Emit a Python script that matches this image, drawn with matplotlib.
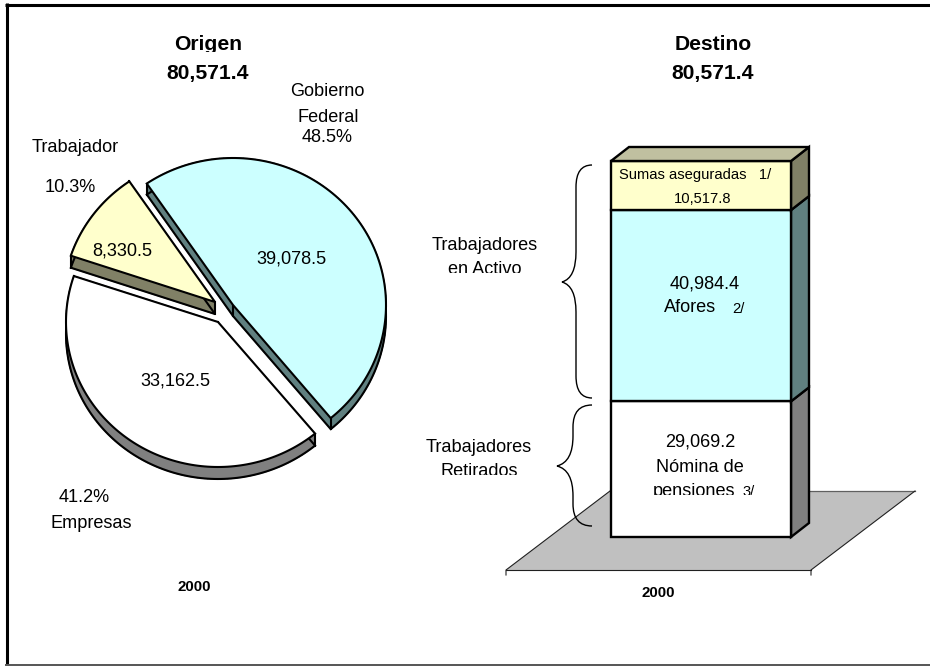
import numpy as np
import matplotlib
matplotlib.use('Agg')
import matplotlib.pyplot as plt
from matplotlib.patches import Polygon, Rectangle, PathPatch
from matplotlib.path import Path

plt.rcParams['font.family'] = ['Liberation Sans', 'DejaVu Sans']

# Origen (pie)
pie_names = ['Gobierno Federal', 'Empresas', 'Trabajador']
pie_values = [39078.5, 33162.5, 8330.5]
pie_colors = ['#CCFFFF', '#FFFFFF', '#FFFFCC']
pie_sides = ['#608080', '#808080', '#808066']

# Destino (stacked column), bottom to top
bar_names = ['Nomina de pensiones', 'Afores', 'Sumas aseguradas']
bar_values = [29069.2, 40984.4, 10517.8]
bar_colors = ['#FFFFFF', '#CCFFFF', '#FFFFCC']
bar_sides = ['#808080', '#608080', '#808066']
bar_total = sum(bar_values)

fig = plt.figure(figsize=(9.3, 6.66), dpi=100)
ax = fig.add_axes([0, 0, 1, 1])
ax.set_xlim(0, 930)
ax.set_ylim(666, 0)
ax.axis('off')

LW = 1.5

# outer frame: heavy top and left, thin grey bottom, nothing on the right
ax.plot([6.5, 6.5], [3, 664], color='black', lw=2.2, solid_capstyle='butt', zorder=0)
ax.plot([5, 930], [4.5, 4.5], color='black', lw=2.2, solid_capstyle='butt', zorder=0)
ax.plot([5, 930], [664.5, 664.5], color='#555555', lw=1.4, solid_capstyle='butt', zorder=0)


def wedge_outline(cx, cy, a1, a2, rx, ry):
    t = np.radians(np.linspace(a1, a2, 120))
    xs = cx + rx * np.cos(t)
    ys = cy - ry * np.sin(t)
    return np.vstack([[cx, cy], np.column_stack([xs, ys])])


def draw_wedge(cx, cy, a1, a2, rx, ry, color, side, depth, z):
    pts = wedge_outline(cx, cy, a1, a2, rx, ry)
    low = pts + [0, depth]
    for i in range(len(pts)):
        j = (i + 1) % len(pts)
        ax.add_patch(Polygon([pts[i], pts[j], low[j], low[i]], fc=side, ec=side, lw=1.0, zorder=z))
    ax.add_patch(Polygon(low, fc='none', ec='black', lw=LW, zorder=z + 0.1))
    for p in (pts[0], pts[1], pts[-1]):
        ax.plot([p[0], p[0]], [p[1], p[1] + depth], color='black', lw=LW, zorder=z + 0.1)
    ax.add_patch(Polygon(pts, fc=color, ec='black', lw=LW, joinstyle='miter', zorder=z + 0.2))


# each slice keeps its own exploded centre
pie_centers = [(233, 305), (218, 322), (215, 302)]
pie_radii = [(153, 147), (152, 145), (152, 146)]
pie_depths = [11, 12, 12]
pie_z = [3, 2, 4]
angle = 124.3
pie_total = sum(pie_values)
for v, c, s, ctr, rad, d, z in zip(pie_values, pie_colors, pie_sides, pie_centers, pie_radii, pie_depths, pie_z):
    sweep = 360 * v / pie_total
    draw_wedge(ctr[0], ctr[1], angle, angle - sweep, rad[0], rad[1], c, s, d, z)
    angle -= sweep

# floor under the column
ax.add_patch(Polygon([(506, 570), (811, 570), (915, 491), (610, 491)], fc='#C0C0C0', ec='none', zorder=1))
ax.plot([610, 915], [491, 491], color='#606060', lw=0.9, zorder=1)
ax.plot([506, 506, 610], [575, 570, 491], color='#202020', lw=0.8, zorder=1)
ax.plot([811, 811, 915], [575, 570, 491], color='#202020', lw=0.8, zorder=1)
ax.plot([506, 811], [570, 570], color='#202020', lw=0.8, zorder=1)

# column
bar_left, bar_right = 611, 791
bar_bottom, bar_top = 537, 161
dx, dy = 18, -14
scale = (bar_bottom - bar_top) / bar_total
base = bar_bottom
for v, c, s in zip(bar_values, bar_colors, bar_sides):
    top = base - v * scale
    ax.add_patch(Polygon([(bar_right, base), (bar_right + dx, base + dy), (bar_right + dx, top + dy), (bar_right, top)],
                         fc=s, ec='black', lw=1.7, zorder=5))
    ax.add_patch(Rectangle((bar_left, top), bar_right - bar_left, base - top, fc=c, ec='black', lw=1.7, zorder=5))
    base = top
ax.add_patch(Polygon([(bar_left, bar_top), (bar_right, bar_top), (bar_right + dx, bar_top + dy), (bar_left + dx, bar_top + dy)],
                     fc='#C0C0A0', ec='black', lw=1.7, zorder=5))


def brace(x_end, x_spine, x_tip, y_top, y_mid, y_bot):
    r = 14
    verts = [(x_end, y_top), (x_spine, y_top), (x_spine, y_top + r + 8),
             (x_spine, y_mid - 30), (x_spine, y_mid - 4), (x_tip, y_mid),
             (x_spine, y_mid + 4), (x_spine, y_mid + 30),
             (x_spine, y_bot - r - 8), (x_spine, y_bot), (x_end, y_bot)]
    codes = [Path.MOVETO, Path.CURVE3, Path.CURVE3, Path.LINETO, Path.CURVE3, Path.CURVE3,
             Path.CURVE3, Path.CURVE3, Path.LINETO, Path.CURVE3, Path.CURVE3]
    ax.add_patch(PathPatch(Path(verts, codes), fc='none', ec='black', lw=1.0, zorder=6))


brace(592, 576, 562, 165, 282, 398)
brace(592, 573, 557, 405, 466, 526)


def label(x, y, s, size=13.1, weight='normal', clip_y=None):
    t = ax.text(x, y, s, ha='center', va='center', fontsize=size, fontweight=weight, color='black', zorder=8)
    if clip_y is not None:
        # the source cuts these lines off at the bottom of their text box
        t.set_clip_path(Rectangle((0, 0), 930, clip_y, transform=ax.transData))
        t.set_clip_on(True)
    return t


label(208, 44, 'Origen', 15.2, 'bold', clip_y=52)
label(208, 73, '80,571.4', 15.2, 'bold')
label(713, 44, 'Destino', 15.2, 'bold')
label(713, 73, '80,571.4', 15.2, 'bold')

label(327, 92, 'Gobierno')
label(328, 117, 'Federal')
label(327, 137, '48.5%')
label(75, 147, 'Trabajador')
label(70, 187, '10.3%')
label(84, 498, '41.2%')
label(91, 524, 'Empresas')

label(122, 251, '8,330.5')
label(291, 259, '39,078.5')
label(175, 381, '33,162.5')

label(695, 175, 'Sumas aseguradas   1/', 10.6)
label(703, 199, '10,517.8', 10.6)
label(705, 284, '40,984.4')
label(690, 308, 'Afores')
label(738, 309, '2/', 10.6)
label(700, 442, '29,069.2')
label(700, 467, 'Nómina de')
label(694, 492, 'pensiones', clip_y=495)
label(749, 492, '3/', 10.6, clip_y=495)

label(485, 245, 'Trabajadores')
label(485, 270, 'en Activo', clip_y=273)
label(479, 447, 'Trabajadores')
label(479, 472, 'Retirados', clip_y=475)

label(194, 587, '2000', 10.8, 'bold')
label(658, 593, '2000', 10.8, 'bold')

fig.savefig('out.png', dpi=100)
